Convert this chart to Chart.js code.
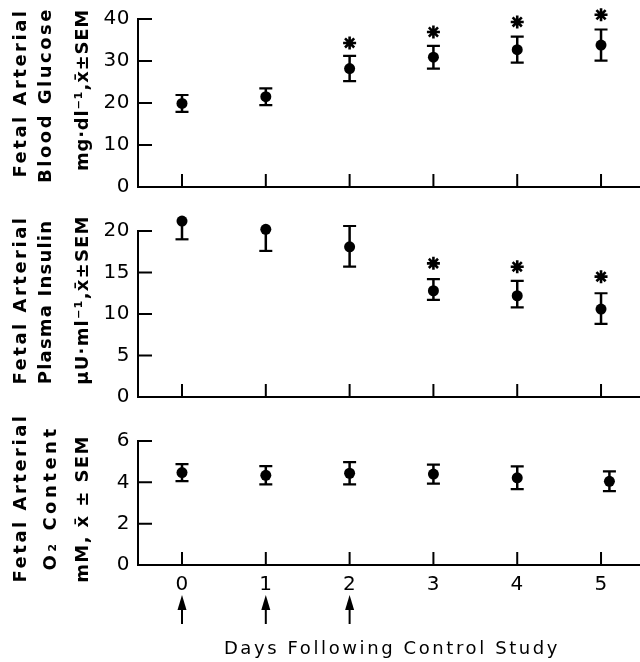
<!DOCTYPE html>
<html>
<head>
<meta charset="utf-8">
<script src="https://cdn.jsdelivr.net/npm/chart.js@4.4.0/dist/chart.umd.min.js"></script>
<style>
  body { margin: 0; background: #fff; }
  #wrap { position: relative; width: 640px; height: 662px; overflow: hidden; }
  canvas { position: absolute; left: 0; }
</style>
</head>
<body>
<div id="wrap">
  <canvas id="glucose" width="640" height="200" style="top:0"></canvas>
  <canvas id="insulin" width="640" height="215" style="top:200px"></canvas>
  <canvas id="oxygen" width="640" height="247" style="top:415px"></canvas>
</div>
<script>
// days after the control study
const days = [0, 1, 2, 3, 4, 5];
const dayTickLabels = ["0", "1", "2", "3", "4", "5"];
const arrowDays = [0, 1, 2];

// fetal arterial blood glucose, mg/dl, mean and SEM
const glucoseMean = [19.9, 21.5, 28.2, 30.9, 32.7, 33.8];
const glucoseSem = [2.0, 2.0, 3.0, 2.7, 3.1, 3.7];
const glucoseStarDays = [2, 3, 4, 5];
const glucoseStars = [34.3, 36.9, 39.3, 41.0];
const glucoseTicks = [0, 10, 20, 30, 40];

// fetal arterial plasma insulin, uU/ml (upper bar hidden on days 0 and 1)
const insulinMean = [21.2, 20.2, 18.1, 12.8, 12.2, 10.6];
const insulinSemUp = [0, 0, 2.5, 1.4, 1.8, 1.9];
const insulinSemDown = [2.2, 2.6, 2.4, 1.1, 1.4, 1.8];
const insulinStarDays = [3, 4, 5];
const insulinStars = [16.1, 15.7, 14.5];
const insulinTicks = [0, 5, 10, 15, 20];

// fetal arterial O2 content, mM
const o2Days = [0, 1, 2, 3, 4, 5.1];
const o2Mean = [4.47, 4.34, 4.44, 4.4, 4.22, 4.05];
const o2Sem = [0.41, 0.44, 0.54, 0.46, 0.55, 0.48];
const o2Ticks = [0, 2, 4, 6];

const dayMin = -0.525;
const dayMax = 5.465;
const INK = "#000";

// y axis line stops at the top tick, and all ticks point into the plot
const innerTicks = {
  id: "innerTicks",
  afterDraw(chart) {
    const { ctx, scales: { x, y } } = chart;
    const topTick = y.ticks[y.ticks.length - 1].value;
    ctx.save();
    ctx.strokeStyle = INK;
    ctx.lineWidth = 2;
    ctx.beginPath();
    ctx.moveTo(x.left, y.bottom + 1);
    ctx.lineTo(x.left, y.getPixelForValue(topTick) - 1);
    x.ticks.forEach(t => {
      const px = x.getPixelForValue(t.value);
      ctx.moveTo(px, y.bottom);
      ctx.lineTo(px, y.bottom - 13);
    });
    y.ticks.forEach(t => {
      const py = y.getPixelForValue(t.value);
      ctx.moveTo(x.left, py);
      ctx.lineTo(x.left + 14, py);
    });
    ctx.stroke();
    ctx.restore();
  }
};

const errorBars = {
  id: "errorBars",
  beforeDatasetsDraw(chart) {
    const { ctx, scales: { y } } = chart;
    const meta = chart.getDatasetMeta(0);
    const raw = chart.data.datasets[0].data;
    ctx.save();
    ctx.strokeStyle = INK;
    meta.data.forEach((pt, i) => {
      const d = raw[i];
      const top = y.getPixelForValue(d.y + d.up);
      const bot = y.getPixelForValue(d.y - d.down);
      ctx.lineWidth = 2.5;
      ctx.beginPath();
      ctx.moveTo(pt.x, top);
      ctx.lineTo(pt.x, bot);
      ctx.stroke();
      ctx.lineWidth = 2.2;
      ctx.beginPath();
      if (d.up > 0) { ctx.moveTo(pt.x - 6.5, top); ctx.lineTo(pt.x + 6.5, top); }
      if (d.down > 0) { ctx.moveTo(pt.x - 6.5, bot); ctx.lineTo(pt.x + 6.5, bot); }
      ctx.stroke();
    });
    ctx.restore();
  }
};

function sideTitle(lines) {
  return {
    id: "sideTitle",
    beforeDraw(chart) {
      chart.ctx.letterSpacing = "0.5px";
    },
    afterDraw(chart) {
      const ctx = chart.ctx;
      ctx.save();
      ctx.fillStyle = INK;
      ctx.font = 'bold 18px "DejaVu Sans"';
      ctx.textAlign = "center";
      ctx.textBaseline = "alphabetic";
      lines.forEach(l => {
        ctx.save();
        ctx.letterSpacing = l.sp + "px";
        ctx.translate(l.x, l.y);
        ctx.rotate(-Math.PI / 2);
        ctx.fillText(l.text, 0, 0);
        ctx.restore();
      });
      ctx.restore();
    }
  };
}

const bottomExtras = {
  id: "bottomExtras",
  afterDraw(chart) {
    const { ctx, scales: { x } } = chart;
    ctx.save();
    ctx.fillStyle = INK;
    ctx.strokeStyle = INK;
    ctx.lineWidth = 2;
    arrowDays.forEach(d => {
      const px = x.getPixelForValue(d);
      ctx.beginPath();
      ctx.moveTo(px, 192);
      ctx.lineTo(px, 209);
      ctx.stroke();
      ctx.beginPath();
      ctx.moveTo(px, 180);
      ctx.lineTo(px - 4.5, 195);
      ctx.lineTo(px + 4.5, 195);
      ctx.closePath();
      ctx.fill();
    });
    ctx.font = '18px "DejaVu Sans"';
    ctx.letterSpacing = "2.6px";
    ctx.textAlign = "center";
    ctx.textBaseline = "alphabetic";
    ctx.fillText("Days Following Control Study", 392, 239);
    ctx.restore();
  }
};

function makePanel(id, opt) {
  const points = opt.days.map((d, i) => ({ x: d, y: opt.mean[i], up: opt.up[i], down: opt.down[i] }));
  const stars = opt.starDays.map((d, i) => ({ x: d, y: opt.stars[i] }));
  return new Chart(document.getElementById(id), {
    type: "scatter",
    data: {
      datasets: [
        { data: points, pointRadius: 5.5, pointBackgroundColor: INK, pointBorderWidth: 0, clip: false },
        { data: stars, pointStyle: "star", pointRadius: 6.5, pointBorderColor: INK, pointBorderWidth: 2.6, clip: false }
      ]
    },
    options: {
      responsive: false,
      animation: false,
      devicePixelRatio: 1,
      events: [],
      layout: { autoPadding: false, padding: { top: opt.padTop, left: 0, right: 0, bottom: 0 } },
      plugins: { legend: { display: false }, tooltip: { enabled: false } },
      scales: {
        x: {
          type: "linear",
          min: dayMin,
          max: dayMax,
          grid: { display: false, drawTicks: false },
          border: { color: INK, width: 2 },
          ticks: {
            display: opt.showDays,
            color: INK,
            padding: 8,
            font: { family: "DejaVu Sans", size: 20 },
            callback: v => dayTickLabels[days.indexOf(v)]
          },
          afterBuildTicks: s => { s.ticks = days.map(v => ({ value: v })); },
          afterFit: s => { s.height = opt.xHeight; s.paddingLeft = 0; s.paddingRight = 0; }
        },
        y: {
          min: opt.yTicks[0],
          max: opt.yMax,
          grid: { display: false, drawTicks: false },
          border: { display: false },
          ticks: {
            color: INK,
            padding: 8,
            font: { family: "DejaVu Sans", size: 20 }
          },
          afterBuildTicks: s => { s.ticks = opt.yTicks.map(v => ({ value: v })); },
          afterFit: s => { s.width = 138; s.paddingTop = 0; s.paddingBottom = 0; }
        }
      }
    },
    plugins: [errorBars, innerTicks, sideTitle(opt.title)].concat(opt.extra || [])
  });
}

makePanel("glucose", {
  days: days, mean: glucoseMean, up: glucoseSem, down: glucoseSem,
  starDays: glucoseStarDays, stars: glucoseStars, yTicks: glucoseTicks, yMax: 42,
  padTop: 10.6, xHeight: 13, showDays: false,
  title: [
    { text: "Fetal Arterial", x: 26, y: 93, sp: 2.5 },
    { text: "Blood Glucose", x: 51, y: 95, sp: 2.5 },
    { text: "mg\u00b7dl\u207b\u00b9,x\u0304\u00b1SEM", x: 88, y: 90, sp: 0.8 }
  ]
});

makePanel("insulin", {
  days: days, mean: insulinMean, up: insulinSemUp, down: insulinSemDown,
  starDays: insulinStarDays, stars: insulinStars, yTicks: insulinTicks, yMax: 22,
  padTop: 14.4, xHeight: 18, showDays: false,
  title: [
    { text: "Fetal Arterial", x: 26, y: 100, sp: 2.5 },
    { text: "Plasma Insulin", x: 51, y: 102, sp: 1.2 },
    { text: "\u03bcU\u00b7ml\u207b\u00b9,x\u0304\u00b1SEM", x: 88, y: 100, sp: 1.2 }
  ]
});

makePanel("oxygen", {
  days: o2Days, mean: o2Mean, up: o2Sem, down: o2Sem,
  starDays: [], stars: [], yTicks: o2Ticks, yMax: 6,
  padTop: 26, xHeight: 97, showDays: true,
  title: [
    { text: "Fetal Arterial", x: 26, y: 83, sp: 2.5 },
    { text: "O\u2082 Content", x: 56, y: 83, sp: 3.5 },
    { text: "mM, x\u0304 \u00b1 SEM", x: 88, y: 94, sp: 1.4 }
  ],
  extra: [bottomExtras]
});
</script>
</body>
</html>
